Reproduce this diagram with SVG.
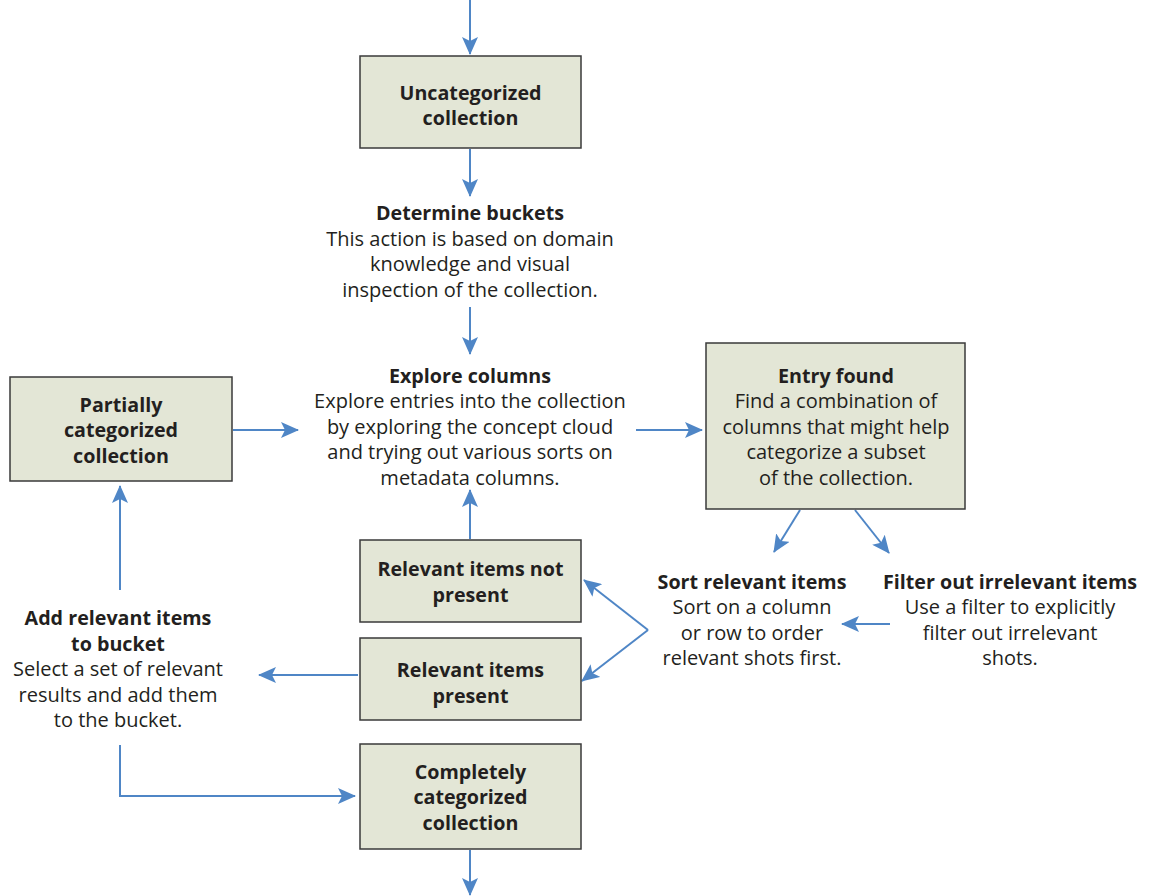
<svg xmlns="http://www.w3.org/2000/svg" width="1152" height="896" viewBox="0 0 1152 896">
<style>
.box{fill:#e3e6d6;stroke:#3a3a3a;stroke-width:1.5}
text{font-family:"Open Sans","Liberation Sans",sans-serif;font-size:20px;fill:#231f20;text-anchor:middle}
.b{font-weight:bold;font-size:19.7px}
.c{fill:none;stroke:#4f86c6;stroke-width:2}
</style>
<defs>
<marker id="ah" markerUnits="userSpaceOnUse" markerWidth="18" markerHeight="16" refX="17" refY="8" orient="auto">
<path d="M0,0 L18,8 L0,16 L4,8 Z" fill="#4f86c6"/>
</marker>
</defs>
<rect width="1152" height="896" fill="#fff"/>
<g id="connectors">
<path class="c" d="M470,0 V54" marker-end="url(#ah)"/>
<path class="c" d="M470,149 V196" marker-end="url(#ah)"/>
<path class="c" d="M470,307 V354" marker-end="url(#ah)"/>
<path class="c" d="M233,430 H298" marker-end="url(#ah)"/>
<path class="c" d="M636,430 H702" marker-end="url(#ah)"/>
<path class="c" d="M470,539 V490" marker-end="url(#ah)"/>
<path class="c" d="M800,510 L774,552" marker-end="url(#ah)"/>
<path class="c" d="M855,510 L889,553" marker-end="url(#ah)"/>
<path class="c" d="M890,624 H842" marker-end="url(#ah)"/>
<path class="c" d="M648,630 L584,580" marker-end="url(#ah)"/>
<path class="c" d="M648,630 L582,681" marker-end="url(#ah)"/>
<path class="c" d="M358,675 H259" marker-end="url(#ah)"/>
<path class="c" d="M120,590 V486" marker-end="url(#ah)"/>
<path class="c" d="M120,745 V796 H355" marker-end="url(#ah)"/>
<path class="c" d="M470,850 V895" marker-end="url(#ah)"/>
</g>
<g id="uncategorized">
<rect class="box" x="360" y="56" width="221" height="92"/>
<text class="b" x="470.5" y="100">Uncategorized</text>
<text class="b" x="470.5" y="125">collection</text>
</g>
<g id="determine">
<text class="b" x="470" y="220">Determine buckets</text>
<text x="470" y="246">This action is based on domain</text>
<text x="470" y="271">knowledge and visual</text>
<text x="470" y="297">inspection of the collection.</text>
</g>
<g id="partially">
<rect class="box" x="10" y="377" width="222" height="104"/>
<text class="b" x="121" y="412">Partially</text>
<text class="b" x="121" y="437">categorized</text>
<text class="b" x="121" y="463">collection</text>
</g>
<g id="explore">
<text class="b" x="470" y="383">Explore columns</text>
<text x="470" y="408">Explore entries into the collection</text>
<text x="470" y="434">by exploring the concept cloud</text>
<text x="470" y="459">and trying out various sorts on</text>
<text x="470" y="485">metadata columns.</text>
</g>
<g id="entry">
<rect class="box" x="706" y="343" width="259" height="166"/>
<text class="b" x="836" y="383">Entry found</text>
<text x="836" y="408">Find a combination of</text>
<text x="836" y="434">columns that might help</text>
<text x="836" y="459">categorize a subset</text>
<text x="836" y="485">of the collection.</text>
</g>
<g id="not-present">
<rect class="box" x="360" y="540" width="221" height="82"/>
<text class="b" x="470.5" y="576">Relevant items not</text>
<text class="b" x="470.5" y="602">present</text>
</g>
<g id="present">
<rect class="box" x="360" y="638" width="221" height="82"/>
<text class="b" x="470.5" y="677">Relevant items</text>
<text class="b" x="470.5" y="703">present</text>
</g>
<g id="sort">
<text class="b" x="752" y="589">Sort relevant items</text>
<text x="752" y="614">Sort on a column</text>
<text x="752" y="640">or row to order</text>
<text x="752" y="665">relevant shots first.</text>
</g>
<g id="filter">
<text class="b" x="1010" y="589">Filter out irrelevant items</text>
<text x="1010" y="614">Use a filter to explicitly</text>
<text x="1010" y="640">filter out irrelevant</text>
<text x="1010" y="665">shots.</text>
</g>
<g id="add">
<text class="b" x="118" y="625">Add relevant items</text>
<text class="b" x="118" y="651">to bucket</text>
<text x="118" y="676">Select a set of relevant</text>
<text x="118" y="702">results and add them</text>
<text x="118" y="727">to the bucket.</text>
</g>
<g id="completely">
<rect class="box" x="360" y="744" width="221" height="105"/>
<text class="b" x="470.5" y="779">Completely</text>
<text class="b" x="470.5" y="804">categorized</text>
<text class="b" x="470.5" y="830">collection</text>
</g>
</svg>
